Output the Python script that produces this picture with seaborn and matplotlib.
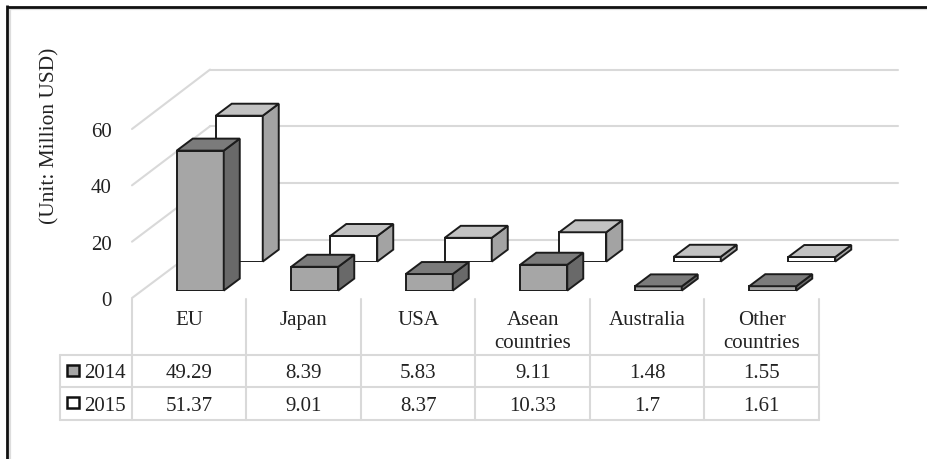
import matplotlib
matplotlib.use("Agg")
import matplotlib.pyplot as plt
from matplotlib.patches import Polygon, Rectangle
from matplotlib.transforms import IdentityTransform
import seaborn as sns

categories = ["EU", "Japan", "USA", "Asean\ncountries", "Australia", "Other\ncountries"]
values_2014 = [49.29, 8.39, 5.83, 9.11, 1.48, 1.55]
values_2015 = [51.37, 9.01, 8.37, 10.33, 1.7, 1.61]
series_names = ["2014", "2015"]
y_ticks = [0, 20, 40, 60]
y_title = "(Unit: Million USD)"

W, H = 927, 460
GRID = "#d9d9d9"
INK = "#1c1c1c"
TEXT = "#222222"
FS = 15
EDGE = 1.4

sns.set_style("white")
plt.rcParams["font.family"] = ["Liberation Serif", "DejaVu Serif"]

fig = plt.figure(figsize=(W / 100, H / 100), dpi=100, facecolor="white")


def axes_px(left, right, top, bottom, **kw):
    """Create axes from pixel edges measured from the top-left corner."""
    return fig.add_axes([left / W, 1 - bottom / H, (right - left) / W, (bottom - top) / H], **kw)


# Overlay in pixel units for the frame, perspective lines and data table
canvas = axes_px(0, W, 0, H, zorder=0)
canvas.set_xlim(0, W)
canvas.set_ylim(H, 0)
canvas.axis("off")

# Outer frame: top and left edges with a faint inner shadow
canvas.plot([10, W], [10, 10], color="#dddddd", lw=1.6, solid_capstyle="butt")
canvas.plot([10, 10], [10, H], color="#dddddd", lw=1.6, solid_capstyle="butt")
canvas.plot([7.5, W], [7.5, 7.5], color="#111111", lw=2.0, solid_capstyle="butt")
canvas.plot([7.5, 7.5], [6, H], color="#111111", lw=2.0, solid_capstyle="butt")

# Back wall carrying the horizontal gridlines
wall = axes_px(210, 898, 70.6, 240.6, zorder=1)
wall.patch.set_alpha(0)
sns.despine(ax=wall, left=True, bottom=True)
wall.set_ylim(0, 60)
wall.set_xticks([])
wall.set_yticks(y_ticks)
wall.tick_params(left=False, labelleft=False)
wall.yaxis.grid(True, color=GRID, lw=1.5)
wall.set_axisbelow(True)
for line in wall.get_ygridlines():
    line.set_clip_on(False)

# Front plane holds the value labels and the axis title
front = axes_px(132, 140, 130, 299, zorder=1)
front.patch.set_alpha(0)
sns.despine(ax=front, left=True, bottom=True)
front.set_ylim(0, 60)
front.set_xticks([])
front.set_yticks(y_ticks)
front.tick_params(left=False, pad=11, labelsize=FS, labelcolor=TEXT)
front.set_ylabel(y_title, fontsize=15.4, color=TEXT)
front.yaxis.set_label_coords(-73 / 8, 0.967)

# Perspective lines joining the front plane to the back wall
for tick in y_ticks:
    fy = 299 - tick / 60 * 169
    by = 240.6 - tick / 60 * 170
    canvas.plot([132, 210], [fy, by], color=GRID, lw=1.5, solid_capstyle="round")


def extrude(ax, side_color, top_color, dx=16, dy=12):
    """Give each seaborn bar a side and a top face, offset in display pixels."""
    for bar in list(ax.patches):
        x0, x1 = bar.get_x(), bar.get_x() + bar.get_width()
        y0, y1 = bar.get_y(), bar.get_y() + bar.get_height()
        (dx0, dy0), (dx1, dy1) = ax.transData.transform([(x0, y0), (x1, y1)])
        side = [(dx1, dy0), (dx1, dy1), (dx1 + dx, dy1 + dy), (dx1 + dx, dy0 + dy)]
        top = [(dx0, dy1), (dx1, dy1), (dx1 + dx, dy1 + dy), (dx0 + dx, dy1 + dy)]
        for pts, colour in ((side, side_color), (top, top_color)):
            ax.add_patch(Polygon(pts, closed=True, facecolor=colour, edgecolor=INK, lw=EDGE,
                                 joinstyle="miter", transform=IdentityTransform(), clip_on=False))


def bar_layer(values, left, base, face, side, top, order):
    """One series of boxes on its own depth plane, using a shared value scale."""
    ax = axes_px(left, left + 687, base - 170.4, base, zorder=order)
    ax.patch.set_alpha(0)
    sns.barplot(x=categories, y=values, ax=ax, color=face, saturation=1, width=47 / 114.5,
                edgecolor=INK, linewidth=EDGE)
    ax.set_xlim(-0.5, 5.5)
    ax.set_ylim(0, 60)
    ax.axis("off")
    extrude(ax, side, top)
    return ax


bar_layer(values_2015, 182, 262.6, "#ffffff", "#a3a3a3", "#c2c2c2", 2)
bar_layer(values_2014, 143, 291.6, "#a6a6a6", "#696969", "#7b7b7b", 3)

# Data table beneath the plot
columns = [132 + i * 114.5 for i in range(len(categories) + 1)]
rows = [356, 387.5, 420.8]
table_kw = dict(color=GRID, lw=1.5, solid_capstyle="round")
for x in columns:
    canvas.plot([x, x], [300, rows[-1]], **table_kw)
canvas.plot([60, 60], [rows[0], rows[-1]], **table_kw)
for y in rows:
    canvas.plot([60, columns[-1]], [y, y], **table_kw)

for i, name in enumerate(categories):
    centre = (columns[i] + columns[i + 1]) / 2
    canvas.text(centre, 311, name, ha="center", va="top", fontsize=FS, color=TEXT, linespacing=1.3)

for row, (label, values, swatch) in enumerate(zip(series_names, (values_2014, values_2015), ("#a6a6a6", "#ffffff"))):
    mid = (rows[row] + rows[row + 1]) / 2 - 0.5
    canvas.add_patch(Rectangle((67.5, mid - 5.5), 11.5, 11, facecolor=swatch, edgecolor="#111111", lw=1.8))
    canvas.text(84, mid, label, ha="left", va="center_baseline", fontsize=FS, color=TEXT)
    for i, v in enumerate(values):
        centre = (columns[i] + columns[i + 1]) / 2
        canvas.text(centre, mid, f"{v:g}", ha="center", va="center_baseline", fontsize=FS, color=TEXT)

fig.savefig("out.png", dpi=100)
